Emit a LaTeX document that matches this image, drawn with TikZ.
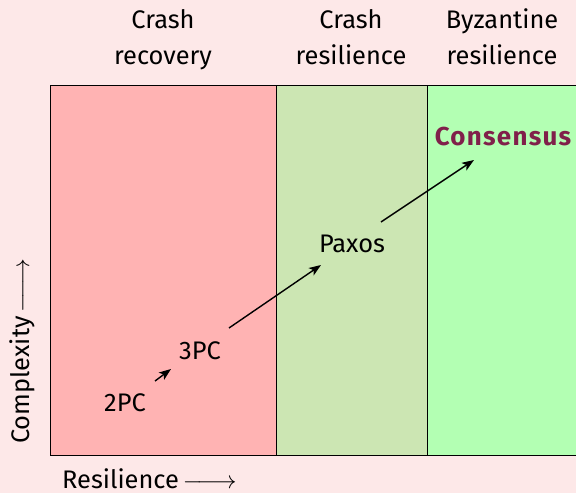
\documentclass[tikz,border=0pt]{standalone}
\usepackage{fontspec}
\setmainfont{Fira Sans}
\usetikzlibrary{arrows.meta}
\definecolor{pagebg}{HTML}{FDE8E8}
\definecolor{recoverybg}{HTML}{FFB3B3}
\definecolor{crashbg}{HTML}{CCE6B3}
\definecolor{byzbg}{HTML}{B3FFB3}
\definecolor{goal}{HTML}{80204A}
\newfontfamily\goalfont[LetterSpace=5]{Fira Sans}
\newcommand{\axisarrow}{$\mkern-2mu\relbar\mkern-4mu\longrightarrow$}
\tikzset{
  label/.style={inner sep=0pt, align=center, font=\fontsize{25.5}{32}\selectfont},
  head/.style={label, anchor=base},
  arr/.style={line width=1.4bp, -{Stealth[length=12bp,width=9bp,inset=3bp]}},
  frame/.style={line width=1bp}
}
\begin{document}
\begin{tikzpicture}[x=1bp,y=-1bp]
\useasboundingbox (0,0) rectangle (576,493);
\fill[pagebg] (0,0) rectangle (576,493);
% resilience regions
\fill[recoverybg] (50,86) rectangle (276,455);
\fill[crashbg] (276,86) rectangle (427,455);
\fill[byzbg] (427,86) rectangle (576,455);
\draw[frame] (576,86) -- (50,86) -- (50,455) -- (576,455);
\draw[frame] (276,86) -- (276,455);
\draw[frame] (427,86) -- (427,455);
% column headings
\node[head] (hrecA) at (163,29) {Crash};
\node[head] (hrecB) at (163,65) {recovery};
\node[head] (hcrashA) at (351,29) {Crash};
\node[head] (hcrashB) at (351,65) {resilience};
\node[head] (hbyzA) at (502,29) {Byzantine};
\node[head] (hbyzB) at (502,65) {resilience};
% protocols
\node[label] (p2) at (125,403) {2PC};
\node[label] (p3) at (200,351) {3PC};
\node[label] (paxos) at (352,244) {Paxos};
\node[label, text=goal, font=\fontsize{26}{32}\goalfont\bfseries] (cons) at (503,137) {Consensus};
\draw[arr] ([shift={(30,-22)}]p2.center) -- ([shift={(-29,18)}]p3.center);
\draw[arr] ([shift={(29,-23)}]p3.center) -- ([shift={(-31,21)}]paxos.center);
\draw[arr] ([shift={(29,-22)}]paxos.center) -- ([shift={(-29,23)}]cons.center);
% axes
\node[label, rotate=90, anchor=base west] (yaxis) at (29,444) {Complexity \axisarrow};
\node[label, anchor=base west] (xaxis) at (62,488) {Resilience \axisarrow};
\end{tikzpicture}
\end{document}
